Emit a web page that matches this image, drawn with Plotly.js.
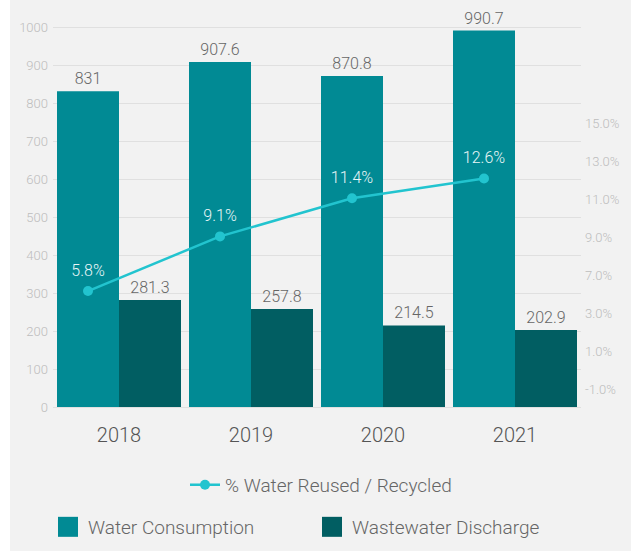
<!DOCTYPE html>
<html>
<head>
<meta charset="utf-8">
<script src="https://cdn.plot.ly/plotly-3.0.1.min.js"></script>
<style>
  html, body { margin: 0; padding: 0; background: #ffffff; }
  #chart { position: absolute; left: 10px; top: 0; width: 621px; height: 551px; }
</style>
</head>
<body>
<div id="chart"></div>
<script>
const years = ['2018', '2019', '2020', '2021'];
const waterConsumption = [831, 907.6, 870.8, 990.7];
const wastewaterDischarge = [281.3, 257.8, 214.5, 202.9];
const reusedPct = [5.8, 9.1, 11.4, 12.6];
const reusedLabels = ['5.8%', '9.1%', '11.4%', '12.6%'];
const leftTicks = [0, 100, 200, 300, 400, 500, 600, 700, 800, 900, 1000];
const rightTickLabels = ['-1.0%', '1.0%', '3.0%', '7.0%', '9.0%', '11.0%', '13.0%', '15.0%'];

const FONT = 'Roboto, "Liberation Sans", Arial, sans-serif';
const W = 300;
const bargap = 0.0606;
const lineShift = (1 - bargap) / 4;

const traces = [
  {
    type: 'bar', name: 'Water Consumption', x: years, y: waterConsumption,
    marker: { color: '#018a94' },
    text: waterConsumption.map(String), textposition: 'outside',
    textfont: { family: FONT, size: 16, color: '#666666', weight: W },
    cliponaxis: false, legend: 'legend2', hoverinfo: 'x+y'
  },
  {
    type: 'bar', name: 'Wastewater Discharge', x: years, y: wastewaterDischarge,
    marker: { color: '#015e62' },
    text: wastewaterDischarge.map(String), textposition: 'outside',
    textfont: { family: FONT, size: 16, color: '#666666', weight: W },
    cliponaxis: false, legend: 'legend3', hoverinfo: 'x+y'
  },
  {
    type: 'scatter', mode: 'lines+markers', name: '% Water Reused / Recycled',
    x: years, y: reusedPct, xaxis: 'x2', yaxis: 'y2',
    line: { color: '#22c4cf', width: 2.5 },
    marker: { color: '#22c4cf', size: 10 },
    legend: 'legend', cliponaxis: false
  },
  {
    // value labels of the line (transparent marker only sets the text offset)
    type: 'scatter', mode: 'markers+text', showlegend: false,
    x: years, y: reusedPct, xaxis: 'x2', yaxis: 'y2',
    text: reusedLabels, textposition: 'top center',
    marker: { size: 16, color: 'rgba(0,0,0,0)' },
    textfont: { family: FONT, size: 16, color: '#e9f6f7', weight: W },
    cliponaxis: false, hoverinfo: 'skip'
  },
  {
    // carrier for the right-hand axis labels
    type: 'scatter', mode: 'markers', x: [], y: [], xaxis: 'x', yaxis: 'y3',
    showlegend: false, hoverinfo: 'skip'
  }
];

const hiddenAxis = {
  showgrid: false, zeroline: false, showline: false,
  showticklabels: false, ticks: ''
};

const legendFont = { family: FONT, size: 19, color: '#666666', weight: W };

const layout = {
  width: 621, height: 551,
  margin: { l: 43, r: 50, t: 8, b: 144 },
  paper_bgcolor: '#f2f2f2', plot_bgcolor: '#f2f2f2',
  font: { family: FONT, color: '#666666', weight: W },
  barmode: 'group', bargap: bargap, bargroupgap: 0,
  showlegend: true,
  xaxis: {
    type: 'category', range: [-0.5, 3.5],
    showgrid: false, zeroline: false, showline: false,
    ticks: 'outside', ticklen: 10, tickcolor: 'rgba(0,0,0,0)',
    tickfont: { family: FONT, size: 20, color: '#555555', weight: W }
  },
  xaxis2: Object.assign({
    type: 'category', overlaying: 'x', anchor: 'y2',
    range: [-0.5 + lineShift, 3.5 + lineShift]
  }, hiddenAxis),
  yaxis: {
    range: [0, 1050], tickvals: leftTicks,
    showgrid: true, gridcolor: '#e0e0e0', gridwidth: 1,
    zeroline: true, zerolinecolor: '#e0e0e0', showline: false,
    ticks: '', ticklabelstandoff: 4,
    tickfont: { family: FONT, size: 13, color: '#bdbdbd', weight: W }
  },
  yaxis2: Object.assign({
    overlaying: 'y', side: 'right', anchor: 'x2', range: [-1.2, 22.89]
  }, hiddenAxis),
  yaxis3: {
    overlaying: 'y', side: 'right', anchor: 'x', range: [-0.45, 10.05],
    tickvals: rightTickLabels.map((_, i) => i), ticktext: rightTickLabels,
    showgrid: false, zeroline: false, showline: false, ticks: '',
    ticklabelstandoff: 3,
    tickfont: { family: FONT, size: 13, color: '#bdbdbd', weight: W }
  },
  legend: {
    orientation: 'h', xref: 'container', yref: 'container',
    x: 0.2818, xanchor: 'left', y: 0.12, yanchor: 'middle',
    bgcolor: 'rgba(0,0,0,0)', font: legendFont
  },
  legend2: {
    orientation: 'h', xref: 'container', yref: 'container',
    x: 0.0612, xanchor: 'left', y: 0.0436, yanchor: 'middle',
    bgcolor: 'rgba(0,0,0,0)', font: legendFont
  },
  legend3: {
    orientation: 'h', xref: 'container', yref: 'container',
    x: 0.4863, xanchor: 'left', y: 0.0436, yanchor: 'middle',
    bgcolor: 'rgba(0,0,0,0)', font: legendFont
  }
};

Plotly.newPlot('chart', traces, layout, { displayModeBar: false, staticPlot: true })
  .then(function (gd) {
    // enlarge the square legend swatches of the bar series (20 px like the original)
    gd.querySelectorAll('.legend2 .legendpoints path, .legend3 .legendpoints path')
      .forEach(function (p) { p.setAttribute('d', 'M10,10H-10V-10H10Z'); });
  });
</script>
</body>
</html>
